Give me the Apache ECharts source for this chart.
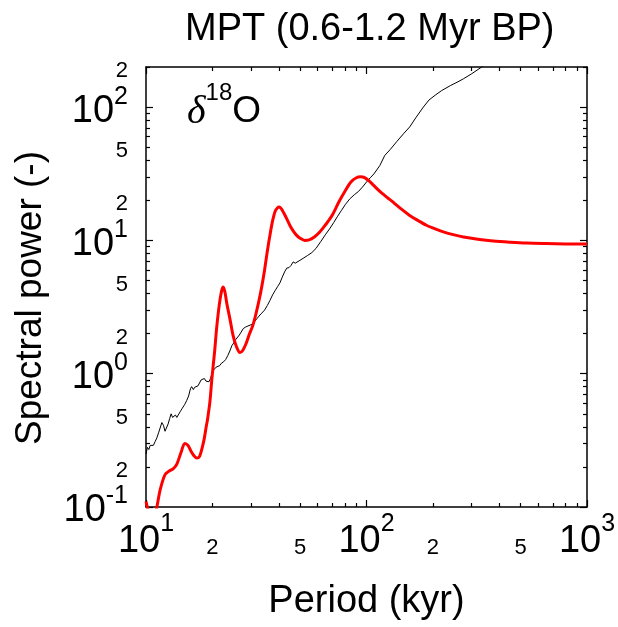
<!DOCTYPE html>
<html>
<head>
<meta charset="utf-8">
<script src="https://cdn.jsdelivr.net/npm/echarts/dist/echarts.min.js"></script>
<style>
  html, body { margin: 0; padding: 0; background: #fff; }
  #chart { width: 618px; height: 627px; }
</style>
</head>
<body>
<div id="chart"></div>
<script>
// Spectral power of the delta-18O record across the Mid-Pleistocene Transition

// Thick red curve: smoothed spectrum (period in kyr, power)
const periodSpec = [10, 10.2, 10.6, 11.0, 11.2, 11.6, 12.2, 12.8, 13.3, 13.8, 14.4, 15.0, 15.5, 16.0, 16.5, 17.0,
  17.5, 18.0, 18.4, 18.8, 19.0, 19.5, 19.9, 20.5, 20.9, 21.5, 22.0, 22.4, 22.8, 23.3, 24.0, 24.8, 25.7, 26.7,
  27.5, 28.5, 29.5, 30.5, 31.5, 32.5, 33.5, 34.5, 35.5, 36.5, 37.5, 38.5, 39.5, 40.3, 41.2, 42.3, 43.5, 45,
  46.5, 48, 50, 52.5, 55, 58, 61.5, 65, 70, 75, 80, 85, 90, 94, 98, 103, 110, 117, 125, 132, 145, 157, 170,
  187, 205, 223, 250, 275, 320, 376, 450, 533, 650, 800, 1000];
const powerSpec = [0.11, 0.097, 0.085, 0.09, 0.1, 0.135, 0.175, 0.187, 0.194, 0.21, 0.255, 0.30, 0.29, 0.262, 0.242, 0.233,
  0.24, 0.28, 0.33, 0.41, 0.45, 0.62, 0.92, 1.5, 2.18, 3.3, 4.15, 4.47, 4.1, 3.3, 2.6, 1.95, 1.6, 1.44,
  1.5, 1.7, 2.0, 2.3, 2.8, 3.5, 4.5, 6.0, 8.3, 11.0, 14.0, 16.5, 17.6, 17.8, 17.2, 15.9, 14.5, 12.9,
  11.8, 11.0, 10.4, 10.0, 10.1, 10.6, 11.6, 13.0, 15.5, 19.5, 23.5, 27.4, 29.5, 30.0, 29.6, 27.8, 25.0, 22.7, 20.8, 19.4, 17.0, 15.4, 14.2,
  13.0, 12.2, 11.6, 11.0, 10.6, 10.2, 9.9, 9.7, 9.56, 9.48, 9.42, 9.4];

// Thin black curve: reference spectrum
const periodRef = [10, 10.15, 10.3, 10.45, 10.6, 10.8, 11.0, 11.2, 11.4, 11.6, 11.8, 12.0, 12.2, 12.4, 12.6, 12.8,
  13.0, 13.2, 13.4, 13.6, 13.8, 14.0, 14.3, 14.6, 15.0, 15.3, 15.6, 15.9, 16.1, 16.4, 16.6, 16.9, 17.2, 17.5,
  17.8, 18.1, 18.4, 18.7, 19.0, 19.3, 19.6, 20.0, 20.4, 20.8, 21.2, 21.6, 22.0, 22.5, 23.0, 23.5, 24.0, 24.5,
  25.0, 25.5, 26.0, 26.5, 27.0, 27.6, 28.3, 29.0, 29.6, 30.3, 31.0, 31.8, 32.5, 33.5, 34.5, 35.5, 36.5, 37.5,
  38.5, 39.5, 40.5, 41.5, 42.5, 43.5, 44.5, 45.5, 46.5, 47.5, 48.5, 50, 52, 54, 56.5, 59, 62, 65, 68, 71, 74,
  77, 80, 84, 88, 92, 96, 100, 104, 108, 115, 121, 128, 137, 147, 157, 168, 181, 192, 205, 219, 240, 260, 275,
  300, 333, 365];
const powerRef = [0.25, 0.28, 0.27, 0.29, 0.30, 0.29, 0.31, 0.33, 0.36, 0.37, 0.43, 0.41, 0.37, 0.375, 0.42, 0.46,
  0.50, 0.47, 0.46, 0.49, 0.47, 0.48, 0.52, 0.55, 0.59, 0.63, 0.68, 0.77, 0.80, 0.76, 0.79, 0.77, 0.81, 0.83,
  0.90, 0.93, 0.92, 0.88, 0.86, 0.87, 0.92, 1.02, 1.08, 1.12, 1.10, 1.15, 1.20, 1.23, 1.28, 1.37, 1.48, 1.62,
  1.70, 1.80, 1.85, 1.95, 2.05, 2.18, 2.24, 2.28, 2.30, 2.35, 2.45, 2.58, 2.70, 2.85, 3.0, 3.25, 3.55, 3.9,
  4.2, 4.5, 4.8, 5.3, 5.8, 6.2, 6.25, 6.5, 6.9, 6.75, 6.8, 7.1, 7.4, 7.7, 8.1, 8.7, 9.8, 11.0, 12.2, 13.6, 15.2,
  16.8, 18.5, 20.5, 22.0, 23.3, 25.2, 27.4, 29.5, 31.5, 36.5, 43.4, 48, 55, 63, 71, 84, 100, 113, 123, 133, 145, 155, 163,
  178, 200, 222];

// Axis ticks and labels
const xMajorTicks = [10, 100, 1000];
const xMinorTicks = [20, 30, 40, 50, 60, 70, 80, 90, 200, 300, 400, 500, 600, 700, 800, 900];
const xLabelValues = [10, 20, 50, 100, 200, 500, 1000];
const yMajorTicks = [0.1, 1, 10, 100];
const yMinorTicks = [0.2, 0.3, 0.4, 0.5, 0.6, 0.7, 0.8, 0.9, 2, 3, 4, 5, 6, 7, 8, 9, 20, 30, 40, 50, 60, 70, 80, 90, 200];
const yLabelValues = [0.1, 0.2, 0.5, 1, 2, 5, 10, 20, 50, 100, 200];

const FONT = 'Liberation Sans, Arial, Helvetica, sans-serif';

// 10^n as "10" with a raised exponent; 2 and 5 multiples as a single small digit
function powerLabel(v) {
  const e = Math.floor(Math.log10(v) + 1e-9);
  const m = Math.round(v / Math.pow(10, e));
  if (m === 1) return '{b|10}{s|' + e + '}';
  return '{m|' + m + '}';
}

const xRich = {
  b: { fontFamily: FONT, fontSize: 38, lineHeight: 60, color: '#000' },
  s: { fontFamily: FONT, fontSize: 25, lineHeight: 25, verticalAlign: 'top', color: '#000' },
  m: { fontFamily: FONT, fontSize: 22, lineHeight: 72, color: '#000' }
};
const yRich = {
  b: { fontFamily: FONT, fontSize: 38, lineHeight: 54, color: '#000' },
  s: { fontFamily: FONT, fontSize: 25, lineHeight: 25, verticalAlign: 'top', color: '#000' },
  m: { fontFamily: FONT, fontSize: 22, lineHeight: 22, color: '#000' }
};

const axisColor = '#000';

function xAxisDef(position, ticks, len, withLine, withLabels) {
  const a = {
    type: 'log', logBase: 10, min: 10, max: 1000, position: position, gridIndex: 0,
    axisLine: { show: withLine, lineStyle: { color: axisColor, width: 1.5 } },
    axisTick: { show: true, inside: true, length: len, customValues: ticks, lineStyle: { color: axisColor, width: 1.2 } },
    axisLabel: { show: false },
    splitLine: { show: false },
    minorTick: { show: false }
  };
  if (withLabels) {
    a.axisLabel = { show: true, customValues: xLabelValues, formatter: powerLabel, rich: xRich, margin: 5 };
    a.name = 'Period (kyr)';
    a.nameLocation = 'middle';
    a.nameGap = 74;
    a.nameTextStyle = { fontFamily: FONT, fontSize: 38, lineHeight: 42, color: '#000' };
  }
  return a;
}

function yAxisDef(position, ticks, len, withLine, withLabels) {
  const a = {
    type: 'log', logBase: 10, min: 0.1, max: 200, position: position, gridIndex: 0,
    axisLine: { show: withLine, lineStyle: { color: axisColor, width: 1.5 } },
    axisTick: { show: true, inside: true, length: len, customValues: ticks, lineStyle: { color: axisColor, width: 1.2 } },
    axisLabel: { show: false },
    splitLine: { show: false },
    minorTick: { show: false }
  };
  if (withLabels) {
    a.axisLabel = { show: true, customValues: yLabelValues, formatter: powerLabel, rich: yRich, margin: 18, padding: [8, 0, 0, 0] };
    a.name = 'Spectral power (-)';
    a.nameLocation = 'middle';
    a.nameRotate = 90;
    a.nameGap = 94;
    a.nameTextStyle = { fontFamily: FONT, fontSize: 37, lineHeight: 42, color: '#000', padding: [0, 22, 0, 0] };
  }
  return a;
}

const chart = echarts.init(document.getElementById('chart'), null, { renderer: 'canvas' });
chart.setOption({
  animation: false,
  backgroundColor: '#fff',
  title: [
    {
      text: 'MPT (0.6-1.2 Myr BP)', left: 180, top: 6,
      textStyle: { fontFamily: FONT, fontSize: 38, fontWeight: 'normal', color: '#000' }
    },
    {
      text: '{d|δ}{s|18}{o|O}', left: 182, top: 76,
      textStyle: {
        fontWeight: 'normal',
        rich: {
          d: { fontFamily: 'Liberation Serif, DejaVu Serif, serif', fontStyle: 'italic', fontWeight: 'normal', fontSize: 40, lineHeight: 62, color: '#000' },
          s: { fontFamily: FONT, fontWeight: 'normal', fontSize: 24, lineHeight: 24, verticalAlign: 'top', color: '#000' },
          o: { fontFamily: FONT, fontWeight: 'normal', fontSize: 37, lineHeight: 62, color: '#000' }
        }
      }
    }
  ],
  grid: { left: 146, right: 31, top: 67, bottom: 120, containLabel: false, outerBoundsMode: 'none' },
  xAxis: [
    xAxisDef('bottom', xMajorTicks, 7, true, true),
    xAxisDef('bottom', xMinorTicks, 4, false, false),
    xAxisDef('top', xMajorTicks, 7, true, false),
    xAxisDef('top', xMinorTicks, 4, false, false)
  ],
  yAxis: [
    yAxisDef('left', yMajorTicks, 7, true, true),
    yAxisDef('left', yMinorTicks, 4, false, false),
    yAxisDef('right', yMajorTicks, 7, true, false),
    yAxisDef('right', yMinorTicks, 4, false, false)
  ],
  series: [
    {
      name: 'reference', type: 'line', xAxisIndex: 0, yAxisIndex: 0,
      data: periodRef.map((p, i) => [p, powerRef[i]]),
      showSymbol: false, symbol: 'none', clip: true,
      lineStyle: { color: '#000', width: 1 },
      z: 2
    },
    {
      name: 'spectrum', type: 'line', xAxisIndex: 0, yAxisIndex: 0,
      data: periodSpec.map((p, i) => [p, powerSpec[i]]),
      showSymbol: false, symbol: 'none', clip: true, smooth: 0.3,
      lineStyle: { color: '#ff0000', width: 3 },
      z: 3
    }
  ]
});
</script>
</body>
</html>
